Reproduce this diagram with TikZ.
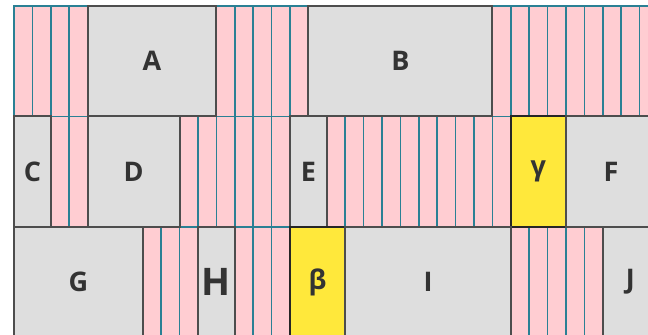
\documentclass[tikz,border=0pt]{standalone}
\usepackage{fontspec}
\setmainfont{Open Sans}
\usepackage{xcolor}
\usepackage{tikz}

\definecolor{stripfill}{RGB}{255,205,210}
\definecolor{stripline}{RGB}{42,128,148}
\definecolor{boxfill}{RGB}{222,222,222}
\definecolor{boxline}{RGB}{77,77,77}
\definecolor{hitfill}{RGB}{255,232,59}
\definecolor{labeltext}{RGB}{51,51,51}

\begin{document}
\begin{tikzpicture}[x=18.4pt, y=18.4pt,
    strip/.style={fill=stripfill, draw=stripline, line width=1.7pt},
    blk/.style={fill=boxfill, draw=boxline, line width=2pt},
    hit/.style={fill=hitfill, draw=black!85, line width=2pt},
    lbl/.style={font=\fontsize{27}{27}\selectfont\bfseries, text=labeltext, inner sep=0pt}]
      \useasboundingbox (-0.761, 0.326) rectangle (34.457, -17.88);
      \clip (-0.761, 0.326) rectangle (34.457, -17.88);
      % pink strips: row top / first cell / last cell
      \foreach \t/\a/\b in {0/0/3, 0/11/15, 0/26/34, -6/2/3, -6/9/14, -6/17/26, -12/7/9, -12/12/14, -12/27/31}
        \foreach \i in {\a,...,\b}
          \draw[strip] (\i,\t) rectangle ++(1,-6);
      % row 1
      \draw[blk] (4,0) rectangle (11,-6);
      \node[lbl] (A) at (7.5,-3) {A};
      \draw[blk] (16,0) rectangle (26,-6);
      \node[lbl] (B) at (21,-3) {B};
      % row 2
      \draw[blk] (0,-6) rectangle (2,-12);
      \node[lbl] (C) at (1,-9) {C};
      \draw[blk] (4,-6) rectangle (9,-12);
      \node[lbl] (D) at (6.5,-9) {D};
      \draw[blk] (15,-6) rectangle (17,-12);
      \node[lbl] (E) at (16,-9) {E};
      \draw[hit] (27,-6) rectangle (30,-12);
      \node[lbl] (gamma) at (28.5,-9) {γ};
      \draw[blk] (30,-6) rectangle (36,-12);
      \node[lbl] (F) at (32.45,-9) {F};
      % row 3, cut off at the bottom
      \draw[blk] (0,-12) rectangle (7,-18);
      \node[lbl] (G) at (3.5,-15) {G};
      \draw[blk] (10,-12) rectangle (12,-18);
      \node[lbl, font=\fontsize{38}{38}\selectfont\bfseries] (H) at (11,-15) {H};
      \draw[hit] (15,-12) rectangle (18,-18);
      \node[lbl] (beta) at (16.5,-15) {β};
      \draw[blk] (18,-12) rectangle (27,-18);
      \node[lbl] (I) at (22.5,-15) {I};
      \draw[blk] (32,-12) rectangle (36,-18);
      \node[lbl] (J) at (33.5,-15) {J};
\end{tikzpicture}
\end{document}
